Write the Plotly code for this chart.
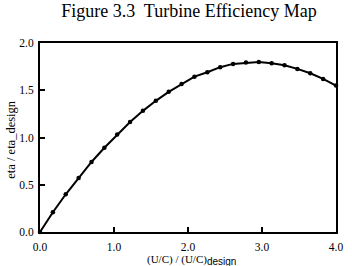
import plotly.graph_objects as go

# Data
uc_ratio = [0.0, 0.174, 0.348, 0.522, 0.696, 0.870, 1.043, 1.217, 1.391, 1.565,
            1.739, 1.913, 2.087, 2.261, 2.435, 2.609, 2.783, 2.957, 3.130, 3.304,
            3.478, 3.652, 3.826, 4.0]
eta_ratio = [0.0, 0.209, 0.399, 0.572, 0.741, 0.892, 1.032, 1.163, 1.282, 1.388,
             1.483, 1.567, 1.644, 1.691, 1.744, 1.779, 1.793, 1.800, 1.786, 1.765,
             1.726, 1.680, 1.620, 1.549]

x_ticks = [0, 1, 2, 3, 4]
x_tick_labels = ["0.0", "1.0", "2.0", "3.0", "4.0"]
y_ticks = [0, 0.5, 1.0, 1.5, 2.0]
y_tick_labels = ["0.0", "0.5", "1.0", "1.5", "2.0"]

W, H = 352, 266
ML, MR, MT, MB = 40, 9, 43, 34
PW, PH = W - ML - MR, H - MT - MB
serif = "Liberation Serif, Times New Roman, serif"


def px_to_paper(px, py):
    return (px - ML) / PW, (H - MB - py) / PH


fig = go.Figure()
fig.add_trace(go.Scatter(
    x=uc_ratio, y=eta_ratio, mode="lines+markers",
    line=dict(color="black", width=2),
    marker=dict(color="black", size=4.5, symbol="circle"),
    cliponaxis=False, showlegend=False,
))

axis_common = dict(
    showline=True, linecolor="black", linewidth=2, mirror=True,
    ticks="inside", ticklen=5, tickwidth=1.5, tickcolor="black",
    showgrid=False, zeroline=False,
    tickfont=dict(family=serif, size=11.5, color="black"),
)

yt_x, yt_y = px_to_paper(10, 140)
xt_x, xt_y = px_to_paper(195, 260)

fig.update_layout(
    width=W, height=H,
    margin=dict(l=ML, r=MR, t=MT, b=MB),
    paper_bgcolor="white", plot_bgcolor="white",
    title=dict(text="Figure 3.3  Turbine Efficiency Map",
               font=dict(family=serif, size=18, color="black"),
               x=189 / W, xanchor="center", xref="container",
               y=1 - 11 / H, yanchor="middle", yref="container"),
    xaxis=dict(range=[0, 4], tickvals=x_ticks, ticktext=x_tick_labels,
               ticklabelstandoff=3, **axis_common),
    yaxis=dict(range=[0, 2], tickvals=y_ticks, ticktext=y_tick_labels,
               ticklabelstandoff=2, **axis_common),
    annotations=[
        dict(text="eta / eta_design", textangle=-90,
             x=yt_x, y=yt_y, xref="paper", yref="paper",
             xanchor="center", yanchor="middle", showarrow=False,
             font=dict(family=serif, size=12.5, color="black")),
        dict(text="(U/C) / (U/C)<sub><span style='font-family:Liberation Sans, Arial, sans-serif;font-size:10px'>design</span></sub>",
             x=xt_x, y=xt_y, xref="paper", yref="paper",
             xanchor="center", yanchor="middle", showarrow=False,
             font=dict(family=serif, size=11, color="black")),
    ],
)

fig.write_html("out.html")
